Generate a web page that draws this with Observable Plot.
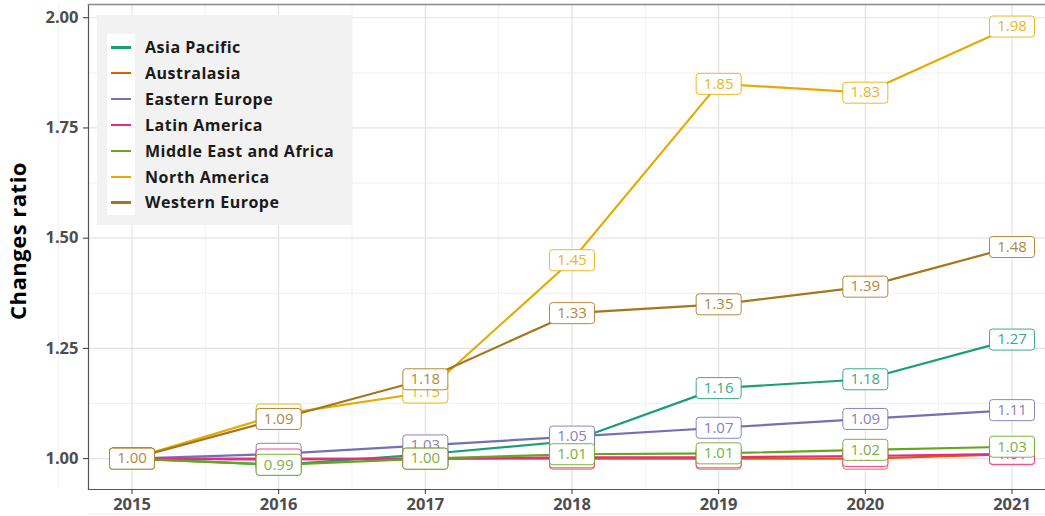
<!DOCTYPE html>
<html>
<head>
<meta charset="utf-8">
<script src="https://cdn.jsdelivr.net/npm/d3@7"></script>
<script src="https://cdn.jsdelivr.net/npm/@observablehq/plot@0.6"></script>
<style>
  html, body { margin: 0; padding: 0; background: #fff; }
  #wrap { position: relative; width: 1045px; height: 516px; overflow: hidden; font-family: "Open Sans", sans-serif; }
  #legend { position: absolute; left: 97px; top: 15px; width: 255px; height: 210px; background: #f2f2f2; }
  .item { position: absolute; left: 0; height: 26px; display: flex; align-items: center; }
  .key { width: 28px; height: 26px; margin-left: 10px; background: #fff; position: relative; }
  .key span { position: absolute; left: 4px; right: 4px; top: 12px; height: 2.5px; }
  .lab { margin-left: 10px; font-size: 16px; letter-spacing: 0.5px; font-weight: bold; color: #1a1a1a; white-space: nowrap; }
  svg .ytitle text, svg [aria-label="tick label"] text { letter-spacing: 0.5px; }
</style>
</head>
<body>
<div id="wrap"><div id="chart"></div><div id="legend"></div></div>
<script>
const years = [2015, 2016, 2017, 2018, 2019, 2020, 2021];
const regions = ["Asia Pacific", "Australasia", "Eastern Europe", "Latin America", "Middle East and Africa", "North America", "Western Europe"];
const colors = ["#1B9E77", "#D95F02", "#7570B3", "#E7298A", "#66A61E", "#E6AB02", "#A6761D"];
const asiaPacific      = [1.00, 0.986, 1.01, 1.04, 1.16, 1.18, 1.27];
const australasia      = [1.00, 1.00, 1.00, 1.00, 1.00, 1.00, 1.01];
const easternEurope    = [1.00, 1.011, 1.03, 1.05, 1.07, 1.09, 1.11];
const latinAmerica     = [1.00, 0.998, 1.00, 1.003, 1.003, 1.006, 1.011];
const middleEastAfrica = [1.00, 0.986, 1.00, 1.01, 1.012, 1.02, 1.027];
const northAmerica     = [1.00, 1.10, 1.15, 1.45, 1.85, 1.83, 1.98];
const westernEurope    = [1.00, 1.09, 1.18, 1.33, 1.35, 1.39, 1.48];
const yTicks = [1.00, 1.25, 1.50, 1.75, 2.00];

const seriesValues = [asiaPacific, australasia, easternEurope, latinAmerica, middleEastAfrica, northAmerica, westernEurope];
const data = [];
regions.forEach((r, i) => years.forEach((y, j) => data.push({region: r, year: y, value: seriesValues[i][j]})));

const font = "'Open Sans', sans-serif";
const box = {
  draw(ctx) {
    const w = 22.5, h = 10.5, r = 3;
    ctx.moveTo(-w + r, -h); ctx.lineTo(w - r, -h); ctx.arcTo(w, -h, w, -h + r, r);
    ctx.lineTo(w, h - r); ctx.arcTo(w, h, w - r, h, r);
    ctx.lineTo(-w + r, h); ctx.arcTo(-w, h, -w, h - r, r);
    ctx.lineTo(-w, -h + r); ctx.arcTo(-w, -h, -w + r, -h, r);
    ctx.closePath();
  }
};

const labelMarks = [];
regions.forEach((r, i) => {
  const sub = data.filter(d => d.region === r);
  labelMarks.push(Plot.dot(sub, {x: "year", y: "value", symbol: box, r: 10, fill: "white", stroke: colors[i], strokeWidth: 1, strokeOpacity: 0.85}));
  labelMarks.push(Plot.text(sub, {x: "year", y: "value", text: d => d3.format(".2f")(d.value), fill: colors[i], fillOpacity: 0.9, fontSize: 15, lineAnchor: "middle", textAnchor: "middle"}));
});

const minorX = d3.range(2014.5, 2021.6, 1);
const minorY = [0.875, 1.125, 1.375, 1.625, 1.875];

const chart = Plot.plot({
  width: 1045,
  height: 516,
  marginLeft: 88,
  marginTop: 4,
  marginBottom: 27,
  marginRight: 0,
  style: {fontFamily: font, background: "white", overflow: "visible"},
  x: {domain: [2014.7, 2021.3], range: [87.5, 1055.5]},
  y: {domain: [0.93, 2.03], range: [489, 4]},
  color: {domain: regions, range: colors},
  marks: [
    Plot.ruleX(minorX, {stroke: "#ebebeb", strokeWidth: 0.7}),
    Plot.ruleY(minorY, {stroke: "#ebebeb", strokeWidth: 0.7}),
    Plot.ruleX(years, {stroke: "#e3e3e3", strokeWidth: 1.2}),
    Plot.ruleY(yTicks, {stroke: "#e3e3e3", strokeWidth: 1.2}),
    Plot.line(data, {x: "year", y: "value", z: "region", stroke: "region", strokeWidth: 2.2}),
    ...labelMarks,
    Plot.frame({anchor: "left", stroke: "#555", strokeWidth: 1.2}),
    Plot.frame({anchor: "bottom", stroke: "#555", strokeWidth: 1.2}),
    Plot.frame({anchor: "top", stroke: "#888", strokeWidth: 1.5}),
    Plot.axisX({ticks: years, tickFormat: d => String(d), tickSize: 5, tickPadding: 4, fontSize: 16.5, fontWeight: "bold", color: "#4d4d4d", stroke: "#333", label: null}),
    Plot.axisY({ticks: yTicks, tickFormat: d3.format(".2f"), tickSize: 5, tickPadding: 5, fontSize: 16.5, fontWeight: "bold", color: "#4d4d4d", stroke: "#333", label: null}),
    Plot.text(["Changes ratio"], {className: "ytitle", frameAnchor: "left", textAnchor: "middle", dx: -70, dy: -6, rotate: -90, fontSize: 22, fontWeight: "bold", fill: "#000"})
  ]
});
document.getElementById("chart").appendChild(chart);

const legend = document.getElementById("legend");
regions.forEach((r, i) => {
  const item = document.createElement("div");
  item.className = "item";
  item.style.top = (19 + i * 25.9) + "px";
  item.innerHTML = `<div class="key"><span style="background:${colors[i]}"></span></div><div class="lab">${r}</div>`;
  legend.appendChild(item);
});
</script>
</body>
</html>
